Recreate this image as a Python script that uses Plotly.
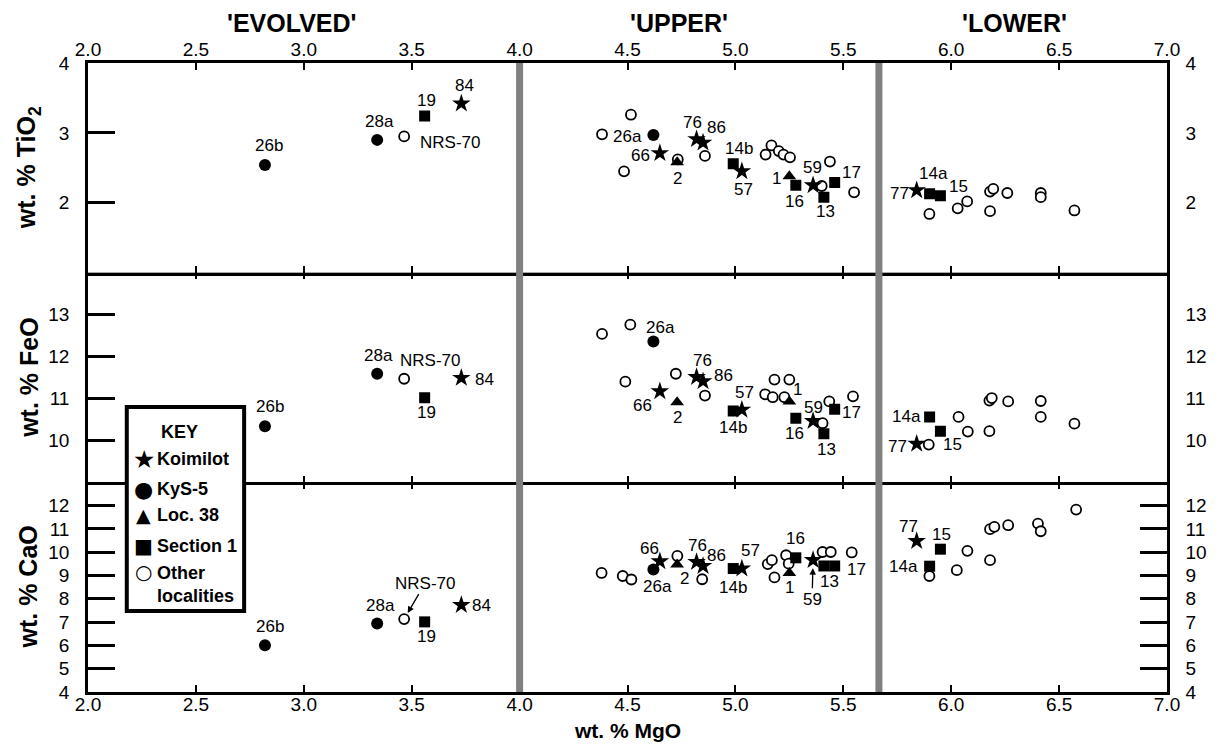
import plotly.graph_objects as go

FONT = "Liberation Sans, Arial, Helvetica, sans-serif"

# ---------------- data ----------------
# Koimilot (stars)
koim_names = ["84", "66", "76", "86", "57", "59", "77"]
koim_mgo = [3.73, 4.65, 4.82, 4.85, 5.03, 5.36, 5.84]
koim_tio2 = [3.42, 2.71, 2.91, 2.86, 2.45, 2.25, 2.18]
koim_feo = [11.49, 11.17, 11.51, 11.41, 10.73, 10.46, 9.92]
koim_cao = [7.73, 9.61, 9.58, 9.41, 9.30, 9.66, 10.48]

# KyS-5 (filled circles)
kys_names = ["26b", "28a", "26a"]
kys_mgo = [2.82, 3.34, 4.62]
kys_tio2 = [2.54, 2.90, 2.97]
kys_feo = [10.34, 11.59, 12.36]
kys_cao = [6.01, 6.94, 9.26]

# Loc. 38 (triangles)
loc_names = ["2", "1"]
loc_mgo = [4.73, 5.25]
loc_tio2 = [2.58, 2.38]
loc_feo = [10.91, 10.93]
loc_cao = [9.47, 9.11]

# Section 1 (squares)
sec_names = ["19", "14b", "16", "13", "17", "14a", "15"]
sec_mgo = [3.56, 4.99, 5.28, 5.41, 5.46, 5.90, 5.95]
sec_tio2 = [3.24, 2.56, 2.25, 2.08, 2.29, 2.13, 2.10]
sec_feo = [11.02, 10.70, 10.53, 10.16, 10.74, 10.56, 10.22]
sec_cao = [7.01, 9.30, 9.76, 9.41, 9.41, 9.40, 10.13]

# Other localities (open circles); first one is NRS-70
other_names = ["NRS-70"] + [""] * 23
other_tio2_mgo = [3.465, 4.382, 4.516, 4.484, 4.733, 4.859, 5.14, 5.167, 5.201, 5.223, 5.253, 5.438,
                  5.40, 5.55, 5.899, 6.03, 6.074, 6.18, 6.195, 6.18, 6.26, 6.415, 6.415, 6.571]
other_tio2 = [2.95, 2.98, 3.26, 2.45, 2.62, 2.67, 2.69, 2.82, 2.74, 2.69, 2.65, 2.59,
              2.24, 2.15, 1.84, 1.92, 2.02, 2.16, 2.20, 1.88, 2.14, 2.14, 2.08, 1.89]
other_feo_mgo = [3.465, 4.382, 4.513, 4.49, 4.724, 4.859, 5.181, 5.25, 5.138, 5.173, 5.227, 5.435,
                 5.404, 5.545, 5.896, 6.034, 6.077, 6.177, 6.188, 6.177, 6.264, 6.415, 6.415, 6.571]
other_feo = [11.47, 12.54, 12.76, 11.40, 11.59, 11.07, 11.45, 11.45, 11.10, 11.03, 11.03, 10.93,
             10.41, 11.05, 9.90, 10.56, 10.21, 10.95, 11.01, 10.22, 10.93, 10.94, 10.56, 10.40]
other_cao_mgo = [3.465, 4.38, 4.478, 4.518, 4.731, 4.846, 5.15, 5.169, 5.181, 5.235, 5.247, 5.404,
                 5.442, 5.539, 5.899, 6.026, 6.075, 6.18, 6.18, 6.2, 6.264, 6.402, 6.415, 6.579]
other_cao = [7.13, 9.11, 8.98, 8.83, 9.84, 8.84, 9.49, 9.66, 8.92, 9.87, 9.51, 10.01,
             10.01, 9.99, 8.98, 9.23, 10.06, 9.66, 10.99, 11.09, 11.16, 11.23, 10.90, 11.83]

group_boundaries = [4.0, 5.665]
region_titles = ["'EVOLVED'", "'UPPER'", "'LOWER'"]
x_ticks = [2.0, 2.5, 3.0, 3.5, 4.0, 4.5, 5.0, 5.5, 6.0, 6.5, 7.0]
tio2_ticks = [2, 3, 4]
feo_ticks = [10, 11, 12, 13]
cao_ticks = [4, 5, 6, 7, 8, 9, 10, 11, 12]

key_labels = ["Koimilot", "KyS-5", "Loc. 38", "Section 1", "Other<br>localities"]
key_glyphs = ["★", "●", "▲", "■", "○"]

# ---------------- styling / label offsets ----------------
# label offsets per panel: name -> (xshift, yshift, xanchor)
top_off = {
    "26b": (4, 20, "center"), "28a": (2, 18, "center"), "NRS-70": (14, -6, "left"),
    "19": (2, 16, "center"), "84": (3, 18, "center"),
    "26a": (-9, -2, "right"), "66": (-8, -2, "right"), "2": (0, -16, "center"),
    "76": (-4, 17, "center"), "86": (13, 15, "center"), "14b": (6, 15, "center"),
    "57": (2, -18, "center"), "1": (-6, -2, "right"), "16": (-1, -16, "center"),
    "59": (-1, 18, "center"), "13": (2, -14, "center"), "17": (17, 10, "center"),
    "77": (-6, -3, "right"), "14a": (4, 20, "center"), "15": (18, 9, "center"),
}
mid_off = {
    "26b": (5, 20, "center"), "28a": (1, 18, "center"), "NRS-70": (26, 18, "center"),
    "19": (2, -15, "center"), "84": (12, -2, "left"),
    "26a": (7, 14, "center"), "66": (-17, -14, "center"), "2": (0, -15, "center"),
    "76": (6, 17, "center"), "86": (9, 6, "left"), "14b": (0, -16, "center"),
    "57": (3, 17, "center"), "1": (8, 12, "center"), "16": (-1, -15, "center"),
    "59": (0, 14, "center"), "13": (3, -16, "center"), "17": (17, -3, "center"),
    "14a": (-7, 0, "right"), "15": (12, -13, "center"), "77": (-8, -3, "right"),
}
bot_off = {
    "26b": (5, 19, "center"), "28a": (3, 18, "center"),
    "19": (2, -15, "center"), "84": (9, 0, "left"),
    "66": (-10, 13, "center"), "26a": (4, -17, "center"), "2": (7, -14, "center"),
    "76": (1, 17, "center"), "86": (13, 10, "center"), "57": (9, 18, "center"),
    "14b": (0, -19, "center"), "16": (0, 19, "center"), "1": (0, -15, "center"),
    "13": (6, -16, "center"), "17": (22, -4, "center"),
    "77": (-8, 15, "center"), "15": (1, 15, "center"), "14a": (-10, 0, "right"),
}
bot_arrows = {"NRS-70": (21, -36, 7), "59": (-1, 39, 8)}

groups = [
    # name, symbol, size, names, mgo per panel, values per panel
    ("Other localities", "circle", 10, other_names,
     (other_tio2_mgo, other_feo_mgo, other_cao_mgo), (other_tio2, other_feo, other_cao)),
    ("KyS-5", "circle", 12, kys_names, (kys_mgo,) * 3, (kys_tio2, kys_feo, kys_cao)),
    ("Loc. 38", "triangle-up", 12, loc_names, (loc_mgo,) * 3, (loc_tio2, loc_feo, loc_cao)),
    ("Section 1", "square", 11, sec_names, (sec_mgo,) * 3, (sec_tio2, sec_feo, sec_cao)),
    ("Koimilot", "star", 14, koim_names, (koim_mgo,) * 3, (koim_tio2, koim_feo, koim_cao)),
]

panels = [("x3", "y3", top_off), ("x2", "y2", mid_off), ("x", "y", bot_off)]

fig = go.Figure()
annotations = []
lab_font = dict(family=FONT, size=17, color="black")

for gname, sym, size, names, mgos, vals in groups:
    for pi, (xa, ya, offs) in enumerate(panels):
        xs = mgos[pi]
        ys = vals[pi]
        if gname.startswith("Other"):
            marker = dict(symbol=sym, size=size, color="white", line=dict(color="black", width=1.8))
        else:
            marker = dict(symbol=sym, size=size, color="black", line=dict(width=0))
        fig.add_trace(go.Scatter(
            x=xs, y=ys, mode="markers", marker=marker, xaxis=xa, yaxis=ya,
            name=gname, showlegend=False, hoverinfo="x+y",
        ))
        for n, xv, yv in zip(names, xs, ys):
            if not n:
                continue
            if pi == 2 and n in bot_arrows:
                ax, ay, so = bot_arrows[n]
                annotations.append(dict(
                    x=xv, y=yv, xref=xa, yref=ya, text=n, showarrow=True, ax=ax, ay=ay,
                    standoff=so, arrowhead=2, arrowsize=1, arrowwidth=1.3, arrowcolor="black",
                    font=lab_font))
                continue
            if n not in offs:
                continue
            dx, dy, anc = offs[n]
            annotations.append(dict(
                x=xv, y=yv, xref=xa, yref=ya, text=n, showarrow=False,
                xshift=dx, yshift=dy, xanchor=anc, yanchor="middle", font=lab_font))

# empty traces to activate right-hand axes
for ya in ["y4", "y5", "y6"]:
    fig.add_trace(go.Scatter(x=[None], y=[None], xaxis="x", yaxis=ya, showlegend=False,
                             hoverinfo="skip", mode="markers"))

# region titles
for t, xp in zip(region_titles, [0.189, 0.548, 0.859]):
    annotations.append(dict(x=xp, y=1.0636, xref="paper", yref="paper", text="<b>" + t + "</b>",
                            showarrow=False, font=dict(family=FONT, size=25, color="black"),
                            xanchor="center", yanchor="middle"))
# y titles
for t, yp in zip(["wt. % TiO<sub>2</sub>", "wt. % FeO", "wt. % CaO"], [5 / 6, 0.5, 1 / 6]):
    annotations.append(dict(x=-0.0553, y=yp, xref="paper", yref="paper", text="<b>" + t + "</b>",
                            showarrow=False, textangle=-90,
                            font=dict(family=FONT, size=25, color="black"),
                            xanchor="center", yanchor="middle"))
# x title
annotations.append(dict(x=0.5, y=-0.062, xref="paper", yref="paper", text="<b>wt. % MgO</b>",
                        showarrow=False, font=dict(family=FONT, size=21, color="black"),
                        xanchor="center", yanchor="middle"))

shapes = []
for b in group_boundaries:
    shapes.append(dict(type="line", xref="x", yref="paper", x0=b, x1=b, y0=0, y1=1,
                       line=dict(color="#808080", width=7), layer="above"))


# ---- KEY box (paper coords; plot area 88..1173 px wide, 63..692 px tall) ----
def px_x(p):
    return (p - 88) / 1085.0


def px_y(p):
    return (692 - p) / 629.0


shapes.append(dict(type="rect", xref="paper", yref="paper",
                   x0=px_x(127), x1=px_x(245), y0=px_y(611), y1=px_y(407),
                   fillcolor="white", line=dict(color="black", width=4), layer="above"))
annotations.append(dict(x=px_x(180), y=px_y(432), xref="paper", yref="paper", text="<b>KEY</b>",
                        showarrow=False, font=dict(family=FONT, size=18, color="black"),
                        xanchor="center", yanchor="middle"))
key_rows = [459, 489, 515, 546, 572]
glyph_sizes = [25, 22, 19, 20, 20]
for lab, gl, ry, gs in zip(key_labels, key_glyphs, key_rows, glyph_sizes):
    annotations.append(dict(x=px_x(144), y=px_y(ry), xref="paper", yref="paper", text=gl,
                            showarrow=False, font=dict(family="DejaVu Sans", size=gs, color="black"),
                            xanchor="center", yanchor="middle"))
    annotations.append(dict(x=px_x(155), y=px_y(ry), xref="paper", yref="paper",
                            text="<b>" + lab + "</b>", showarrow=False, align="left",
                            font=dict(family=FONT, size=18, color="black"),
                            xanchor="left", yanchor="top" if "<br>" in lab else "middle",
                            yshift=11 if "<br>" in lab else 0))

tick_font = dict(family=FONT, size=19, color="black")
xcommon = dict(range=[2, 7], tickvals=x_ticks, ticktext=[f"{v:.1f}" for v in x_ticks],
               ticks="inside", ticklen=7, tickwidth=2, tickcolor="black",
               showline=True, linewidth=2.5, linecolor="black", mirror="ticks",
               showgrid=False, zeroline=False, tickfont=tick_font, domain=[0, 1])
ycommon = dict(ticks="inside", ticklen=27, tickwidth=2.5, tickcolor="black",
               showline=True, linewidth=2.5, linecolor="black",
               showgrid=False, zeroline=False, tickfont=tick_font, ticklabelstandoff=12)

fig.update_layout(
    width=1219, height=750,
    margin=dict(l=88, r=46, t=63, b=58),
    paper_bgcolor="white", plot_bgcolor="white",
    font=dict(family=FONT, color="black"),
    xaxis=dict(**xcommon, anchor="y", showticklabels=True, ticklabelstandoff=-7),
    xaxis2=dict(**xcommon, anchor="y2", matches="x", showticklabels=False),
    xaxis3=dict(**xcommon, anchor="y3", matches="x", side="top", showticklabels=True,
                ticklabelstandoff=-3),
    yaxis=dict(**ycommon, domain=[0, 1 / 3], range=[4, 13], tickvals=cao_ticks, anchor="x"),
    yaxis2=dict(**ycommon, domain=[1 / 3, 2 / 3], range=[9, 14], tickvals=feo_ticks, anchor="x2"),
    yaxis3=dict(**ycommon, domain=[2 / 3, 1], range=[1, 4], tickvals=tio2_ticks, anchor="x3"),
    yaxis4=dict(**ycommon, range=[4, 13], tickvals=cao_ticks, overlaying="y", side="right", anchor="x"),
    yaxis5=dict(**ycommon, range=[9, 14], tickvals=feo_ticks, overlaying="y2", side="right", anchor="x2"),
    yaxis6=dict(**ycommon, range=[1, 4], tickvals=tio2_ticks, overlaying="y3", side="right", anchor="x3"),
    annotations=annotations,
    shapes=shapes,
    showlegend=False,
)

fig.write_html("out.html")
